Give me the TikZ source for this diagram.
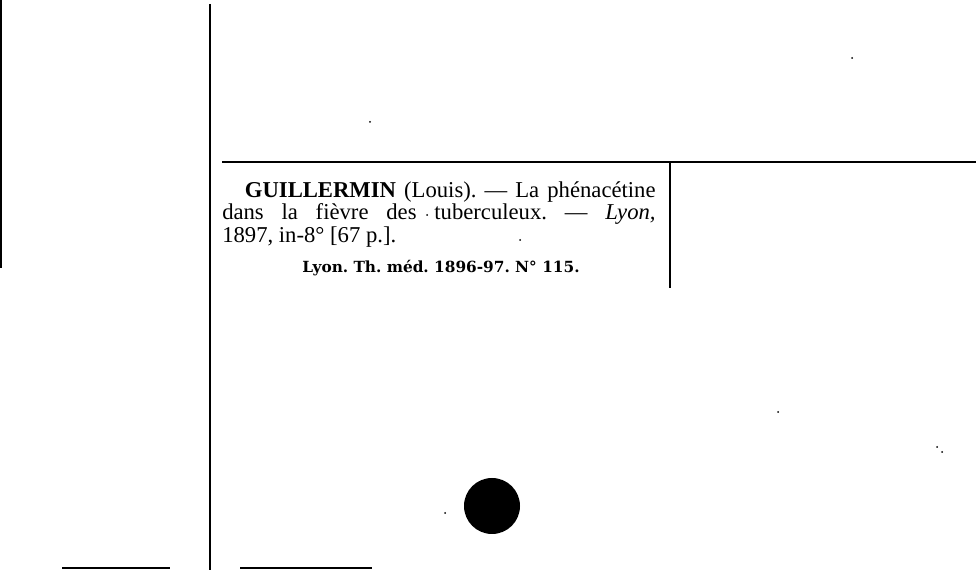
\documentclass[tikz,border=0pt]{standalone}
\usepackage{fontspec}
\setmainfont{Liberation Serif}
\newfontfamily\reffont{DejaVu Serif}
\begin{document}
\frenchspacing
\begin{tikzpicture}[x=0.75pt,y=-0.75pt]
\tikzset{rule/.style={line width=2.2pt},thinrule/.style={line width=1.5pt},
 speck/.style={fill=black,inner sep=0pt,minimum size=1.5pt,circle}}
\useasboundingbox[fill=white] (0,0) rectangle (976,570);
% rules
\coordinate (l1) at (1,0); \coordinate (l2) at (1,268);
\draw[thinrule] (l1) -- (l2);
\coordinate (m1) at (210,4); \coordinate (m2) at (210,570);
\draw[rule] (m1) -- (m2);
\coordinate (h1) at (222,162); \coordinate (h2) at (976,162);
\draw[thinrule] (h1) -- (h2);
\coordinate (v1) at (670,162); \coordinate (v2) at (670,288);
\draw[rule] (v1) -- (v2);
\coordinate (b1) at (62,568); \coordinate (b2) at (170,568);
\draw[thinrule] (b1) -- (b2);
\coordinate (b3) at (240,568); \coordinate (b4) at (372,568);
\draw[thinrule] (b3) -- (b4);
% blot
\node[fill=black,circle,minimum size=42pt,inner sep=0pt] (dot) at (492,506) {};
% specks
\foreach \p/\n in {{(370,122)}/s1,{(852,58)}/s2,{(778,412)}/s3,{(937,447)}/s4,{(942,452)}/s5,{(445,513)}/s6,{(520,240)}/s7,{(427,215)}/s8}
  \node[speck] (\n) at \p {};
% text
\node[anchor=north west,inner sep=0pt,text width=325pt,align=justify,font=\fontsize{17}{16.9}\selectfont\frenchspacing] (txt) at (222,181)
 {\hspace*{17pt}\textbf{GUILLERMIN} (Louis). — La phénacétine\linebreak
 dans la fièvre des tuberculeux. — \textit{Lyon,}\linebreak
 1897, in-8° [67 p.].};
\node[anchor=base,inner sep=0pt,font=\reffont\fontsize{11.5}{13}\selectfont\bfseries] (ref) at (441,273)
 {Lyon.\ Th.\ méd.\ 1896-97.\ N° 115.};
\end{tikzpicture}
\end{document}
